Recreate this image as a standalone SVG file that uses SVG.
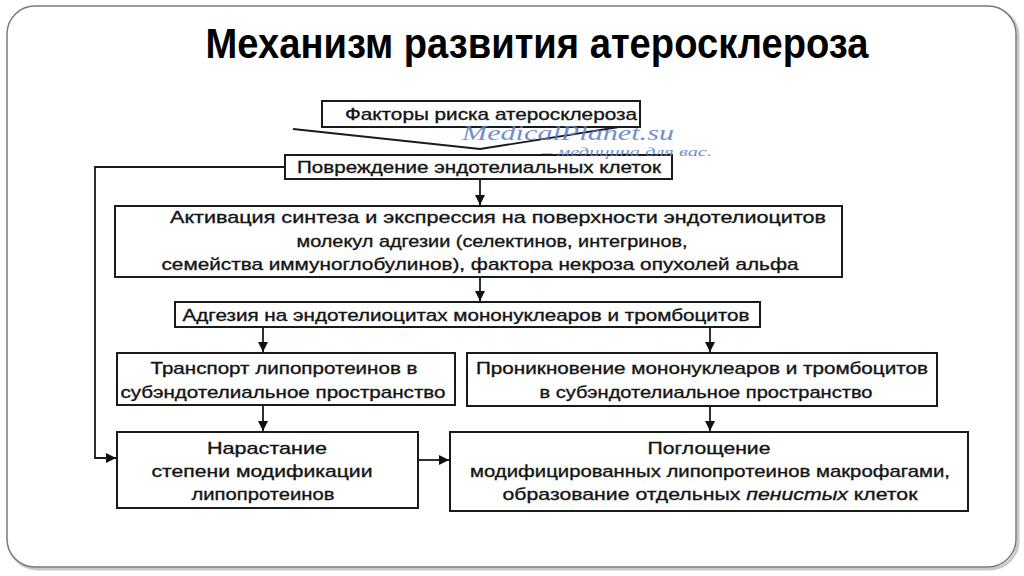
<svg xmlns="http://www.w3.org/2000/svg" width="1024" height="576" viewBox="0 0 1024 576">
<defs>
<marker id="ah" viewBox="0 0 10 10" refX="10" refY="5" markerWidth="10" markerHeight="10" markerUnits="userSpaceOnUse" orient="auto">
<path d="M0,0 L10,5 L0,10 z" fill="#111"/>
</marker>
<style>
.box{fill:#fff;stroke:#1a1a1a;stroke-width:2}
.t{font-family:"Liberation Sans",Arial,sans-serif;font-size:17px;fill:#141414;stroke:#141414;stroke-width:0.35;text-anchor:middle}
.c{fill:none;stroke:#1a1a1a;stroke-width:1.8}
.wm{font-family:"Liberation Serif","Times New Roman",serif;font-style:italic;fill:#5a7dc4;opacity:0.85}
</style>
</defs>
<rect width="1024" height="576" fill="#fff"/>
<rect x="9" y="8" width="1009" height="561" rx="28" fill="none" stroke="#c8c8c8" stroke-width="3"/>
<rect x="7" y="6" width="1009" height="561" rx="28" fill="#fff" stroke="#7a7a7a" stroke-width="1.5"/>
<text x="537" y="58" font-family="'Liberation Sans',Arial,sans-serif" font-weight="bold" font-size="42" text-anchor="middle" textLength="663" lengthAdjust="spacingAndGlyphs" fill="#000">Механизм развития атеросклероза</text>

<g id="connectors">
<path class="c" d="M293,129 L480,149 L638,124"/>
<path class="c" d="M480,179 V205" marker-end="url(#ah)"/>
<path class="c" d="M480,277 V301" marker-end="url(#ah)"/>
<path class="c" d="M263,327 V352" marker-end="url(#ah)"/>
<path class="c" d="M710,327 V352" marker-end="url(#ah)"/>
<path class="c" d="M263,405 V431" marker-end="url(#ah)"/>
<path class="c" d="M710,406 V431" marker-end="url(#ah)"/>
<path class="c" d="M418,460 H449" marker-end="url(#ah)"/>
<path class="c" d="M285,167 H95 V458 H116" marker-end="url(#ah)"/>
</g>

<g id="n1"><rect class="box" x="322" y="101" width="318" height="26"/>
<text class="t" x="491" y="120" textLength="292" lengthAdjust="spacingAndGlyphs">Факторы риска атеросклероза</text></g>

<g id="n2"><rect class="box" x="285" y="155" width="387" height="24"/>
<text class="t" x="479" y="173" textLength="364" lengthAdjust="spacingAndGlyphs">Повреждение эндотелиальных клеток</text></g>

<g id="n3"><rect class="box" x="115" y="206" width="727" height="71"/>
<text class="t" x="498" y="223" textLength="656" lengthAdjust="spacingAndGlyphs">Активация синтеза и экспрессия на поверхности эндотелиоцитов</text>
<text class="t" x="492" y="247" textLength="391" lengthAdjust="spacingAndGlyphs">молекул адгезии (селектинов, интегринов,</text>
<text class="t" x="480" y="270" textLength="637" lengthAdjust="spacingAndGlyphs">семейства иммуноглобулинов), фактора некроза опухолей альфа</text></g>

<g id="n4"><rect class="box" x="175" y="302" width="585" height="25"/>
<text class="t" x="466" y="321" textLength="567" lengthAdjust="spacingAndGlyphs">Адгезия на эндотелиоцитах мононуклеаров и тромбоцитов</text></g>

<g id="n5"><rect class="box" x="117" y="353" width="338" height="52"/>
<text class="t" x="284" y="374" textLength="267" lengthAdjust="spacingAndGlyphs">Транспорт липопротеинов в</text>
<text class="t" x="283" y="398" textLength="325" lengthAdjust="spacingAndGlyphs">субэндотелиальное пространство</text></g>

<g id="n6"><rect class="box" x="467" y="353" width="470" height="53"/>
<text class="t" x="702" y="374" textLength="452" lengthAdjust="spacingAndGlyphs">Проникновение мононуклеаров и тромбоцитов</text>
<text class="t" x="706" y="398" textLength="333" lengthAdjust="spacingAndGlyphs">в субэндотелиальное пространство</text></g>

<g id="n7"><rect class="box" x="117" y="432" width="301" height="76"/>
<text class="t" x="267" y="454" textLength="120" lengthAdjust="spacingAndGlyphs">Нарастание</text>
<text class="t" x="262" y="477" textLength="221" lengthAdjust="spacingAndGlyphs">степени модификации</text>
<text class="t" x="263" y="500" textLength="143" lengthAdjust="spacingAndGlyphs">липопротеинов</text></g>

<g id="n8"><rect class="box" x="450" y="432" width="518" height="79"/>
<text class="t" x="709" y="454" textLength="123" lengthAdjust="spacingAndGlyphs">Поглощение</text>
<text class="t" x="710" y="477" textLength="480" lengthAdjust="spacingAndGlyphs">модифицированных липопротеинов макрофагами,</text>
<text class="t" x="710" y="500" textLength="415" lengthAdjust="spacingAndGlyphs">образование отдельных <tspan font-style="italic">пенистых</tspan> клеток</text></g>

<g id="watermark">
<text class="wm" x="462" y="140" font-size="20" textLength="212" lengthAdjust="spacingAndGlyphs">MedicalPlanet.su</text>
<text class="wm" x="542" y="156" font-size="13" textLength="170" lengthAdjust="spacingAndGlyphs">– медицина для вас.</text>
</g>
</svg>
